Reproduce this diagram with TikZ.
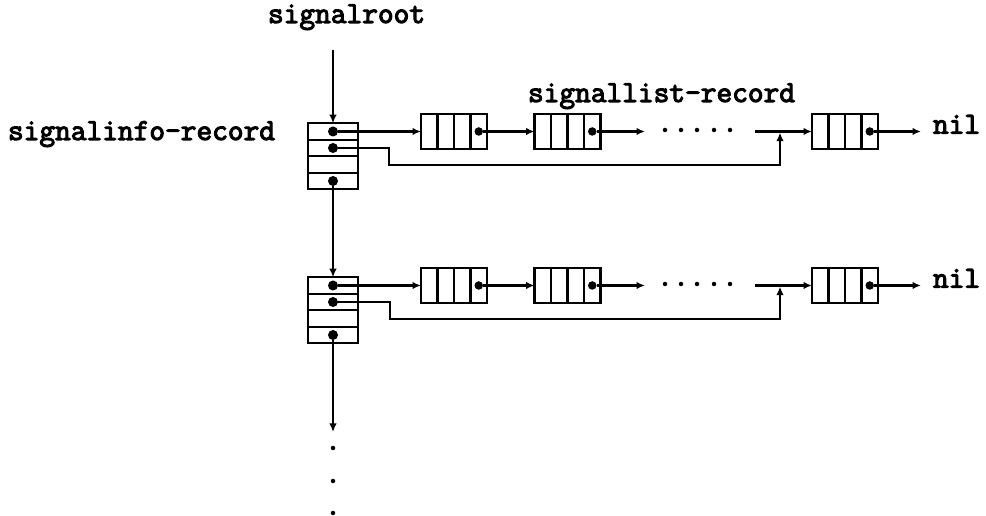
\documentclass[tikz,border=0pt]{standalone}
\usetikzlibrary{arrows.meta,calc}
\newcommand\heavytxt[1]{\special{pdf:literal direct 2 Tr 1.1 w}#1\special{pdf:literal direct 0 Tr}}
\begin{document}
\begin{tikzpicture}[x=1pt,y=1pt,
  ln/.style={line width=2.2pt},
  arr/.style={ln,-{Latex[length=8.5pt,width=7.5pt]}},
  infobox/.style={draw,line width=2.2pt,minimum width=50pt,minimum height=66pt,inner sep=0,outer sep=0},
  recbox/.style={draw,line width=2.2pt,minimum width=66pt,minimum height=35pt,inner sep=0,outer sep=0},
  lbl/.style={font=\ttfamily\fontsize{30.5}{34}\selectfont,inner sep=0,outer sep=0},
  bigdot/.style={circle,fill,inner sep=0,minimum size=10pt},
  smalldot/.style={circle,fill,inner sep=0,minimum size=8.5pt},
  pdot/.style={circle,fill,inner sep=0,minimum size=4.5pt}]
\useasboundingbox (0,0) rectangle (986,516);

% labels
\node[lbl,anchor=base west] (root) at (268,493) {\heavytxt{signalroot}};
\node[lbl,anchor=base west] (infolbl) at (8,376) {\heavytxt{signalinfo-record}};
\node[lbl,anchor=base west] (listlbl) at (528,414) {\heavytxt{signallist-record}};
\node[lbl,anchor=mid west] (nil1) at (933,384.5) {\heavytxt{nil}};
\node[lbl,anchor=mid west] (nil2) at (933,230.5) {\heavytxt{nil}};

% info boxes
\node[infobox] (I1) at (333,359.75) {};
\node[infobox] (I2) at (333,205.75) {};
\foreach \b in {I1,I2} {
  \foreach \k in {16.5,0,-16.5}
    \draw[ln] ($(\b.west)+(0,\k)$) -- ($(\b.east)+(0,\k)$);
  \node[bigdot] (\b a) at ($(\b.center)+(0,24.75)$) {};
  \node[bigdot] (\b b) at ($(\b.center)+(0,8.25)$) {};
  \node[bigdot] (\b d) at ($(\b.center)+(0,-24.75)$) {};
}

% record boxes
\node[recbox] (R11) at (454,384.5) {};
\node[recbox] (R12) at (567.5,384.5) {};
\node[recbox] (R13) at (845,384.5) {};
\node[recbox] (R21) at (454,230.5) {};
\node[recbox] (R22) at (567.5,230.5) {};
\node[recbox] (R23) at (845,230.5) {};
\foreach \r in {R11,R12,R13,R21,R22,R23} {
  \foreach \k in {-16.5,0,16.5}
    \draw[ln] ($(\r.south)+(\k,0)$) -- ($(\r.north)+(\k,0)$);
  \node[smalldot] (\r d) at ($(\r.center)+(24.75,0)$) {};
}

% vertical spine
\coordinate (rs) at (333,466);
\draw[arr] (rs) -- (I1.north);
\draw[arr] (I1d) -- (I2.north);
\coordinate (dn) at (333,84);
\draw[arr] (I2d) -- (dn);
\foreach \y in {68,35,3} \node[pdot] (v\y) at (333,\y) {};

% row 1
\draw[arr] (I1a) -- (I1a -| R11.west);
\draw[arr] (R11d) -- (R11d -| R12.west);
\coordinate (a1) at (645,384.5);
\draw[arr] (R12d) -- (a1);
\foreach \x in {665,681,697,714,730} \node[pdot] (p1\x) at (\x,386) {};
\coordinate (b1) at (755,384.5);
\draw[arr] (b1) -- (R13.west);
\coordinate (j1) at (389,351);
\coordinate (m1) at (780,384.5);
\draw[arr,shorten >=1.1pt] (I1b) -| (j1) -| (m1);
\draw[arr,shorten >=12pt] (R13d) -- (nil1.mid west);

% row 2
\draw[arr] (I2a) -- (I2a -| R21.west);
\draw[arr] (R21d) -- (R21d -| R22.west);
\coordinate (a2) at (645,230.5);
\draw[arr] (R22d) -- (a2);
\foreach \x in {665,681,697,714,730} \node[pdot] (p2\x) at (\x,232) {};
\coordinate (b2) at (755,230.5);
\draw[arr] (b2) -- (R23.west);
\coordinate (j2) at (390,197);
\coordinate (m2) at (780,230.5);
\draw[arr,shorten >=1.1pt] (I2b) -| (j2) -| (m2);
\draw[arr,shorten >=12pt] (R23d) -- (nil2.mid west);
\end{tikzpicture}
\end{document}
